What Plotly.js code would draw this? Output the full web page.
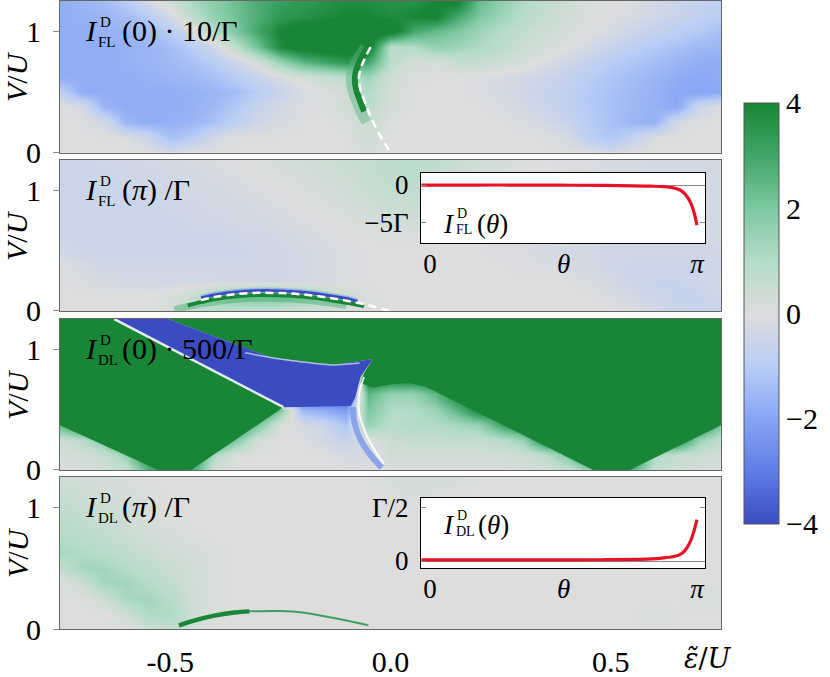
<!DOCTYPE html>
<html>
<head>
<meta charset="utf-8">
<script src="https://cdn.plot.ly/plotly-3.0.1.min.js"></script>
<style>
html, body { margin: 0; padding: 0; background: #fff; }
#chart { width: 830px; height: 677px; }
</style>
</head>
<body>
<div id="chart"></div>
<script>
"use strict";
// grid of the maps (eps/U across, V/U up)
var eps = [-0.75,-0.7,-0.65,-0.6,-0.55,-0.5,-0.45,-0.4,-0.35,-0.3,-0.25,-0.2,-0.15,-0.1,-0.05,0,0.05,0.1,0.15,0.2,0.25,0.3,0.35,0.4,0.45,0.5,0.55,0.6,0.65,0.7,0.75];
var volt = [0,0.125,0.25,0.375,0.5,0.625,0.75,0.875,1,1.125,1.25];

// I_FL(0)*10/Gamma
var zFL0 = [
	[0,0,0,0,0,-0.3,0,0,0,0,0,0,0,0,0.2,0,0,0,0,0,0,0,0,0,0,-0.3,0,0,0,0,0],
	[0,0,0,0,-0.5,-1.3,-1.0,-0.3,0,0,0,0,0,0,0.4,0,0,0,0,0,0,0,0,-0.2,-0.9,-1.2,-0.7,0,0,0,0],
	[0,0,-0.3,-1.6,-1.8,-1.7,-1.6,-1.3,-0.8,-0.4,-0.2,0,0,0.1,0.5,0,0,0,0,0,0,-0.1,-0.3,-0.6,-1.0,-1.3,-1.6,-1.7,-0.3,0,0],
	[0,-0.2,-1.6,-1.8,-1.8,-1.8,-1.7,-1.5,-1.1,-0.6,-0.3,-0.1,0,0.3,0.8,0.2,0,0,0,0,-0.1,-0.3,-0.5,-0.8,-1.1,-1.3,-1.5,-1.7,-1.9,-0.5,0],
	[-0.8,-1.8,-1.8,-1.8,-1.8,-1.8,-1.7,-1.6,-1.4,-1.0,-0.6,-0.2,0,0.3,1.0,0.2,0,0,0,-0.1,-0.2,-0.4,-0.6,-0.8,-1.1,-1.3,-1.5,-1.7,-1.9,-2.0,-1.9],
	[-1.8,-1.8,-1.8,-1.8,-1.7,-1.6,-1.5,-1.3,-1.0,-0.6,-0.2,0.3,0.5,0.8,1.4,0.3,0.1,0,0,-0.1,-0.2,-0.3,-0.5,-0.7,-1.0,-1.2,-1.4,-1.6,-1.8,-1.9,-1.8],
	[-1.8,-1.8,-1.8,-1.7,-1.6,-1.5,-1.3,-1.0,-0.5,0.2,1.5,2.5,3.0,3.5,3.0,0.8,0.2,0.2,0.5,0.6,0.4,0.2,-0.1,-0.4,-0.7,-1.0,-1.2,-1.4,-1.6,-1.8,-1.8],
	[-1.8,-1.8,-1.8,-1.7,-1.6,-1.4,-1.0,-0.4,0.8,2.2,3.8,4.5,4.5,4.5,4.5,0.8,1.0,1.6,1.4,1.1,0.8,0.5,0.2,0,-0.3,-0.6,-0.9,-1.1,-1.3,-1.5,-1.6],
	[-1.8,-1.8,-1.7,-1.6,-1.4,-1.0,-0.2,1.0,2.0,3.0,4.0,4.5,4.5,4.5,4.5,4.5,3.0,2.4,2.0,1.4,1.0,0.6,0.4,0.2,0,-0.2,-0.5,-0.7,-0.9,-1.1,-1.3],
	[-1.8,-1.7,-1.6,-1.4,-1.0,-0.3,0.8,1.6,2.2,2.8,3.4,3.6,3.8,4.0,4.0,3.8,4.0,4.2,3.0,2.0,1.4,0.9,0.6,0.3,0.1,0,-0.2,-0.4,-0.6,-0.8,-1.0],
	[-1.8,-1.6,-1.4,-1.0,-0.3,0.4,1.2,1.8,2.3,2.8,3.2,3.4,3.6,3.8,3.8,3.6,3.6,4.0,4.2,2.4,1.7,1.1,0.7,0.4,0.1,0.1,-0.1,-0.3,-0.5,-0.7,-0.9]
];
// I_FL(pi)/Gamma
var zFL1 = [
	[0,0,0,0,0,0.3,0.8,0.8,0.6,0.5,0.4,0.3,0.2,0.1,0,0,0,0,0,0,0,0,0,0,0,0,-0.1,-0.3,-0.5,-0.6,-0.5],
	[0,0,0,0,0,0.1,0.5,1.2,2.0,2.2,2.2,1.8,1.0,0.4,0.1,0,0,0,0,0,0,0,0,0,0,-0.1,-0.3,-0.5,-0.6,-0.6,-0.4],
	[0,-0.1,-0.2,-0.3,-0.3,-0.3,-0.3,-0.3,-0.4,-0.4,-0.4,-0.3,-0.2,-0.1,0,0,0,0,0,0,0,0,0,0,-0.1,-0.3,-0.5,-0.6,-0.6,-0.5,-0.3],
	[0,-0.2,-0.4,-0.4,-0.4,-0.4,-0.4,-0.4,-0.4,-0.4,-0.4,-0.3,-0.2,-0.1,0,0,0,0,0,0,0,-0.1,-0.1,-0.2,-0.3,-0.4,-0.5,-0.5,-0.5,-0.5,-0.4],
	[-0.3,-0.5,-0.5,-0.5,-0.5,-0.5,-0.5,-0.5,-0.5,-0.4,-0.4,-0.3,-0.2,-0.1,0,0,0,0,0,0,-0.1,-0.1,-0.2,-0.3,-0.3,-0.4,-0.4,-0.4,-0.4,-0.4,-0.4],
	[-0.5,-0.5,-0.5,-0.5,-0.5,-0.5,-0.5,-0.5,-0.4,-0.4,-0.3,-0.2,-0.1,0,0,0.1,0.1,0,0,0,0,-0.1,-0.1,-0.2,-0.2,-0.3,-0.3,-0.3,-0.3,-0.3,-0.3],
	[-0.5,-0.5,-0.5,-0.5,-0.5,-0.5,-0.4,-0.4,-0.3,-0.3,-0.2,-0.1,0,0.1,0.2,0.3,0.3,0.2,0.1,0,0,0,-0.1,-0.1,-0.2,-0.2,-0.3,-0.3,-0.3,-0.3,-0.3],
	[-0.5,-0.5,-0.5,-0.5,-0.5,-0.4,-0.4,-0.3,-0.3,-0.2,-0.1,0,0.1,0.2,0.3,0.5,0.5,0.4,0.3,0.1,0,0,-0.1,-0.1,-0.2,-0.2,-0.3,-0.3,-0.3,-0.3,-0.3],
	[-0.5,-0.5,-0.5,-0.5,-0.4,-0.4,-0.3,-0.3,-0.2,-0.1,0,0.1,0.2,0.3,0.5,0.6,0.7,0.5,0.4,0.2,0.1,0,0,-0.1,-0.1,-0.2,-0.2,-0.3,-0.3,-0.3,-0.3],
	[-0.5,-0.5,-0.5,-0.4,-0.4,-0.3,-0.3,-0.2,-0.1,0,0.1,0.2,0.3,0.4,0.6,0.7,0.8,0.6,0.5,0.3,0.1,0,0,-0.1,-0.1,-0.2,-0.2,-0.3,-0.3,-0.3,-0.3],
	[-0.5,-0.5,-0.4,-0.4,-0.3,-0.3,-0.2,-0.1,0,0.1,0.2,0.3,0.4,0.5,0.6,0.8,0.8,0.7,0.5,0.3,0.2,0.1,0,-0.1,-0.1,-0.2,-0.2,-0.3,-0.3,-0.3,-0.3]
];
// I_DL(0)*500/Gamma
var zDL0 = [
	[0.1,0.2,0.3,0.6,2.5,4,3,0.3,0,0,0,0,0,0,0,0.1,0.1,0.1,0.1,0.1,0.1,0.2,0.3,0.5,1.5,4,2.5,0.6,0.4,0.3,0.2],
	[0.2,0.3,0.5,1.5,4,4,4,1.0,0.1,0,0,0,0,-0.2,-0.3,0.3,0.3,0.3,0.3,0.3,0.3,0.4,0.7,2,4,4,4,1.0,0.6,0.4,0.3],
	[0.4,0.8,2,4,4,4,4,4,2,0.2,0,0,-0.3,-0.6,0,0.5,0.6,0.6,0.6,0.6,0.8,1.5,4,4,4,4,4,4,4,1.5,0.6],
	[2.5,4,4,4,4,4,4,4,4,2,0.1,-0.2,-0.5,-1.2,1.5,0.8,1.0,1.0,1.2,1.5,3,4,4,4,4,4,4,4,4,4,2],
	[4,4,4,4,4,4,4,4,4,4,2,-1.5,-1.8,-2.2,2.0,1.0,1.0,1.4,2.5,4,4,4,4,4,4,4,4,4,4,4,4],
	[4,4,4,4,4,4,4,4,4,0,-4,-4,-4,-4,2.5,1.5,1.5,2.5,4,4,4,4,4,4,4,4,4,4,4,4,4],
	[4,4,4,4,4,4,4,4,-4,-4,-4,-4,-4,-4,4,4,4,4,4,4,4,4,4,4,4,4,4,4,4,4,4],
	[4,4,4,4,4,4,4,-4,-4,-4,-4,-4,-3,-3,0,4,4,4,4,4,4,4,4,4,4,4,4,4,4,4,4],
	[4,4,4,4,4,0,-4,-4,-4,0,4,4,4,4,4,4,4,4,4,4,4,4,4,4,4,4,4,4,4,4,4],
	[4,4,4,4,-3,-4,-4,0,4,4,4,4,4,4,4,4,4,4,4,4,4,4,4,4,4,4,4,4,4,4,4],
	[4,4,2,-4,-4,0,4,4,4,4,4,4,4,4,4,4,4,4,4,4,4,4,4,4,4,4,4,4,4,4,4]
];
// I_DL(pi)/Gamma
var zDL1 = [
	[0,0,0,0,0.3,0.6,0.3,0,0,0,0,0,0,0,0,0,0,0,0,0,0,0,0,0,0,0,0,0,0,0,0],
	[0,0,0,0.3,1.1,1.1,0.4,0.1,0,0,0,0,0,0,0,0,0,0,0,0,0,0,0,0,0,0,0,0.2,0,0,0],
	[0,0,0.3,1.2,1.3,0.9,0.4,0.1,0,0,0,0,0,0,0,0,0,0,0,0,0,0,0,0,0,0,0,0,0,0.2,0],
	[0,0.4,1.3,1.3,1.0,0.6,0.3,0.1,0,0,0,0,0,0,0,0,0,0,0,0,0,0,0,0,0,0,0,0,0,0,0],
	[0.6,1.3,1.3,1.0,0.7,0.5,0.3,0.1,0,0,0,0,0,0,0,0,0,0,0,0,0,0,0,0,0,0,0,0,0,0,0],
	[1.2,1.1,0.9,0.7,0.5,0.3,0.2,0.1,0,0,0,0,0,0,0,0,0,0,0,0,0,0,0,0,0,0,0,0,0,0,0],
	[1.0,0.9,0.7,0.5,0.3,0.2,0.1,0,0,0,0,0,0,0,0,0,0,0,0,0,0,0,0,0,0,0,0,0,0,0,0],
	[0.9,0.7,0.5,0.4,0.2,0.1,0,0,0,0,0,0,0,0,0,0,0,0,0,0,0,0,0,0,0,0,0,0,0,0,0],
	[0.7,0.5,0.4,0.3,0.1,0,0,0,0,0,0,0,0,0,0,0,0,0,0,0,0,0,0,0,0,0,0,0,0,0,0],
	[0.5,0.4,0.3,0.2,0.1,0,0,0,0,0,0,0,0,0,0,0.1,0.2,0.1,0,0,0,0,0,0,0,0,0,0,0,0,0],
	[0.4,0.3,0.2,0.1,0,0,0,0,0,0,0,0,0,0,0,0.2,0.3,0.3,0.2,0,0,0,0,0,0,0,0,0,0,0,0]
];

// dashed curve and green ridge in the first map
var fl0DashX = [-0.045,-0.058,-0.067,-0.072,-0.068,-0.06,-0.05,-0.038,-0.022,-0.01,0];
var fl0DashV = [0.87,0.78,0.7,0.615,0.52,0.436,0.34,0.243,0.13,0.06,0];
var fl0RidgeX = [-0.052,-0.066,-0.076,-0.081,-0.078,-0.07,-0.06];
var fl0RidgeV = [0.87,0.78,0.7,0.615,0.52,0.436,0.34];
var fl0HaloX = [-0.058,-0.074,-0.085,-0.09,-0.087,-0.079,-0.068,-0.055];
var fl0HaloV = [0.87,0.78,0.7,0.615,0.52,0.436,0.34,0.25];

// second map: dashed curve with blue above and green below
var fl1DashX = [-0.43,-0.4,-0.35,-0.3,-0.25,-0.2,-0.15,-0.1,-0.05,-0.02,0];
var fl1DashV = [0.09,0.115,0.14,0.15,0.148,0.137,0.115,0.085,0.048,0.018,0];
var fl1BlueX = [-0.43,-0.4,-0.35,-0.3,-0.25,-0.2,-0.15,-0.1,-0.075];
var fl1BlueV = [0.108,0.133,0.158,0.168,0.166,0.155,0.133,0.103,0.08];
var fl1GreenX = [-0.46,-0.43,-0.4,-0.35,-0.3,-0.25,-0.2,-0.15,-0.1,-0.06];
var fl1GreenV = [0.045,0.073,0.097,0.122,0.132,0.13,0.119,0.097,0.067,0.04];
var fl1FadeX = [-0.49,-0.45,-0.4,-0.35,-0.3,-0.25,-0.2,-0.15,-0.1];
var fl1FadeV = [0.01,0.045,0.075,0.097,0.105,0.103,0.092,0.072,0.045];

// third map: saturated regions
var dl0LeftX = [-0.75,-0.627,-0.243,-0.4525,-0.527,-0.75];
var dl0LeftV = [1.25,1.25,0.52,0,0,0.37];
var dl0RightX = [-0.505,-0.27,-0.13,-0.04,-0.06,-0.068,-0.04,0,0.04,0.08,0.46,0.543,0.75,0.75];
var dl0RightV = [1.25,0.93,0.87,0.92,0.8,0.72,0.68,0.71,0.72,0.69,0,0,0.37,1.25];
var dl0BlueX = [-0.627,-0.505,-0.27,-0.13,-0.04,-0.068,-0.08,-0.09,-0.243];
var dl0BlueV = [1.25,1.25,0.93,0.87,0.92,0.77,0.6,0.53,0.52];
var dl0TailX = [-0.085,-0.082,-0.074,-0.06,-0.04,-0.02];
var dl0TailV = [0.52,0.4,0.3,0.2,0.1,0.02];
var dl0EdgeLowX = [-0.627,-0.243];
var dl0EdgeLowV = [1.25,0.52];
var dl0EdgeTopX = [-0.33,-0.27,-0.2,-0.13,-0.07];
var dl0EdgeTopV = [0.97,0.93,0.895,0.87,0.885];
var dl0EdgeRightX = [-0.06,-0.068,-0.072,-0.072,-0.066,-0.052,-0.032,-0.015];
var dl0EdgeRightV = [0.77,0.68,0.6,0.5,0.4,0.27,0.14,0.05];

// fourth map: thin green arc
var dl1ArcX = [-0.48,-0.45,-0.4,-0.355,-0.32];
var dl1ArcV = [0.03,0.065,0.11,0.135,0.145];
var dl1TailX = [-0.32,-0.25,-0.2,-0.15,-0.1,-0.05];
var dl1TailV = [0.145,0.148,0.135,0.105,0.07,0.03];

// insets
var theta = [-0.1,0.5,1.0,1.5,2.0,2.4,2.6,2.75,2.85,2.94,3.0,3.06,3.1,3.14];
var flTheta = [0,0,0,-0.02,-0.05,-0.1,-0.15,-0.22,-0.35,-0.66,-1.2,-2.2,-3.4,-5.3];
var dlTheta = [0.01,0.01,0.01,0.01,0.012,0.015,0.02,0.03,0.04,0.06,0.1,0.18,0.27,0.39];

var GREEN = 'rgb(24,134,54)';
var BLUE = 'rgb(58,76,192)';

function heat(z, n) {
	return {type: 'heatmap', x: eps, y: volt, z: z, zsmooth: 'best', coloraxis: 'coloraxis',
		xaxis: 'x' + (n > 1 ? n : ''), yaxis: 'y' + (n > 1 ? n : ''), hoverinfo: 'skip'};
}
function line(x, y, n, color, width, dash) {
	return {type: 'scatter', mode: 'lines', x: x, y: y, xaxis: 'x' + (n > 1 ? n : ''), yaxis: 'y' + (n > 1 ? n : ''),
		line: {color: color, width: width, dash: dash || 'solid', shape: 'spline'}, hoverinfo: 'skip'};
}
function poly(x, y, n, color) {
	return {type: 'scatter', mode: 'lines', x: x, y: y, fill: 'toself', fillcolor: color,
		xaxis: 'x' + n, yaxis: 'y' + n, line: {width: 0, color: color}, hoverinfo: 'skip'};
}

var data = [
	heat(zFL0, 1), heat(zFL1, 2), heat(zDL0, 3), heat(zDL1, 4),
	line(fl0HaloX, fl0HaloV, 1, 'rgba(90,180,125,0.45)', 10),
	line(fl0RidgeX, fl0RidgeV, 1, GREEN, 6),
	line(fl0DashX, fl0DashV, 1, 'white', 2.5, '8px,5px'),
	line(fl1FadeX, fl1FadeV, 2, 'rgba(90,180,125,0.55)', 7),
	line(fl1BlueX, fl1BlueV, 2, 'rgba(120,150,240,0.5)', 6),
	line(fl1BlueX, fl1BlueV, 2, BLUE, 3),
	line(fl1GreenX, fl1GreenV, 2, GREEN, 4),
	line(fl1DashX, fl1DashV, 2, 'white', 2.5, '8px,5px'),
	poly(dl0LeftX, dl0LeftV, 3, GREEN),
	poly(dl0RightX, dl0RightV, 3, GREEN),
	poly(dl0BlueX, dl0BlueV, 3, BLUE),
	line(dl0TailX, dl0TailV, 3, 'rgba(120,150,235,0.8)', 6),
	line(dl0EdgeLowX, dl0EdgeLowV, 3, 'rgba(255,255,255,0.85)', 2.5),
	line(dl0EdgeTopX, dl0EdgeTopV, 3, 'rgba(255,255,255,0.6)', 1.5),
	line(dl0EdgeRightX, dl0EdgeRightV, 3, 'rgba(255,255,255,0.9)', 2),
	line(dl1ArcX, dl1ArcV, 4, GREEN, 4.5),
	line(dl1TailX, dl1TailV, 4, 'rgb(60,160,100)', 2),
	line(theta, flTheta, 5, 'rgb(232,18,40)', 3.2),
	line(theta, dlTheta, 6, 'rgb(232,18,40)', 3.2)
];

// pixel -> paper helpers (plot area 60..721 x 1..629)
function px(x) { return (x - 60) / 661; }
function py(y) { return (629 - y) / 628; }

var FONT = 'Liberation Serif, DejaVu Serif, serif';
function txt(x, y, s, size, extra) {
	var a = {xref: 'paper', yref: 'paper', x: px(x), y: py(y), text: s, showarrow: false,
		xanchor: 'left', yanchor: 'middle', font: {family: FONT, size: size, color: 'black'}};
	for (var k in extra) a[k] = extra[k];
	return a;
}

var ann = [];
var tops = [1, 160, 319, 477];
var subs = ['FL', 'FL', 'DL', 'DL'];
var rest = ['(0) · 10/Γ', '(<i>π</i>) /Γ', '(0) · 500/Γ', '(<i>π</i>) /Γ'];
for (var i = 0; i < 4; i++) {
	var t = tops[i];
	ann.push(txt(83, t + 29, '<i>I</i>', 30));
	ann.push(txt(98, t + 21, 'D', 15));
	ann.push(txt(96, t + 41, subs[i], 15));
	ann.push(txt(120, t + 30, rest[i], 30));
	ann.push(txt(17, t + 76, '<i>V</i>/<i>U</i>', 30, {xanchor: 'center', textangle: -90}));
}
// inset labels
ann.push(txt(441, 224, '<i>I</i>', 27));
ann.push(txt(455, 213, 'D', 14));
ann.push(txt(454, 229, 'FL', 14));
ann.push(txt(475, 224, '(<i>θ</i>)', 27));
ann.push(txt(441, 525, '<i>I</i>', 27));
ann.push(txt(455, 515, 'D', 14));
ann.push(txt(454, 531, 'DL', 14));
ann.push(txt(476, 525, '(<i>θ</i>)', 27));
// x title (DejaVu carries the combining tilde)
ann.push(txt(682, 658, '<i>ε̃</i>/<i>U</i>', 27, {font: {family: 'DejaVu Serif', size: 27, color: 'black'}}));

function mainX(n, show) {
	return {domain: [0, 1], anchor: 'y' + (n > 1 ? n : ''), range: [-0.75, 0.75], showgrid: false, zeroline: false,
		showline: true, mirror: true, linecolor: '#666', linewidth: 1, ticks: '',
		tickvals: [-0.5, 0, 0.5], ticktext: ['-0.5', '0.0', '0.5'], showticklabels: show, ticklabelstandoff: 6,
		tickfont: {family: FONT, size: 30}};
}
function mainY(n, dom) {
	return {domain: dom, anchor: 'x' + (n > 1 ? n : ''), range: [0, 1.25], showgrid: false, zeroline: false,
		showline: true, mirror: true, linecolor: '#666', linewidth: 1, ticks: 'outside', ticklen: 6, tickcolor: '#888',
		tickvals: [0, 1], ticklabelstandoff: 6, tickfont: {family: FONT, size: 30}};
}
function insetX(n, dom) {
	return {domain: dom, anchor: 'y' + n, range: [-0.106, 3.236], showgrid: false, zeroline: false,
		showline: true, mirror: true, linecolor: 'black', linewidth: 1, ticks: '',
		tickvals: [0, Math.PI / 2, Math.PI], ticktext: ['0', '<i>θ</i>', '<i>π</i>'], ticklabelstandoff: -3,
		tickfont: {family: FONT, size: 27}};
}
function insetY(n, dom, range, vals, labels) {
	return {domain: dom, anchor: 'x' + n, range: range, showgrid: false,
		zeroline: true, zerolinecolor: '#888', zerolinewidth: 1,
		showline: true, mirror: 'ticks', linecolor: 'black', linewidth: 1, ticks: 'inside', ticklen: 5, tickcolor: '#888',
		tickvals: vals, ticktext: labels, ticklabelstandoff: 6, tickfont: {family: FONT, size: 27}};
}

var layout = {
	width: 830, height: 677,
	margin: {l: 60, r: 109, t: 1, b: 48},
	paper_bgcolor: 'white', plot_bgcolor: 'white',
	showlegend: false,
	font: {family: FONT, size: 30, color: 'black'},
	coloraxis: {
		cmin: -4, cmax: 4,
		colorscale: [
			[0, 'rgb(58,76,192)'], [0.125, 'rgb(95,125,230)'], [0.25, 'rgb(135,165,245)'],
			[0.375, 'rgb(185,205,245)'], [0.5, 'rgb(221,221,221)'], [0.625, 'rgb(180,220,200)'],
			[0.75, 'rgb(125,200,160)'], [0.875, 'rgb(65,165,105)'], [1, 'rgb(24,134,54)']
		],
		colorbar: {
			x: 1.0348, xanchor: 'left', y: 0.5024, yanchor: 'middle',
			thickness: 35, len: 421, lenmode: 'pixels', xpad: 0, ypad: 0,
			outlinewidth: 1, outlinecolor: '#555', ticks: '',
			tickvals: [-4, -2, 0, 2, 4], ticktext: ['−4', '−2', '0', '2', '4'],
			tickfont: {family: FONT, size: 30}
		}
	},
	xaxis: mainX(1, false), xaxis2: mainX(2, false), xaxis3: mainX(3, false), xaxis4: mainX(4, true),
	yaxis: mainY(1, [0.7584, 1]), yaxis2: mainY(2, [0.5064, 0.7468]),
	yaxis3: mainY(3, [0.2532, 0.4936]), yaxis4: mainY(4, [0, 0.242]),
	xaxis5: insetX(5, [0.546, 0.976]), yaxis5: insetY(5, [0.615, 0.726], [-7.63, 1.58], [0, -5], ['0', '−5Γ']),
	xaxis6: insetX(6, [0.546, 0.976]), yaxis6: insetY(6, [0.0971, 0.2086], [-0.066, 0.594], [0, 0.5], ['0', 'Γ/2']),
	annotations: ann
};

Plotly.newPlot(document.getElementById('chart'), data, layout, {displayModeBar: false, staticPlot: true});
</script>
</body>
</html>
